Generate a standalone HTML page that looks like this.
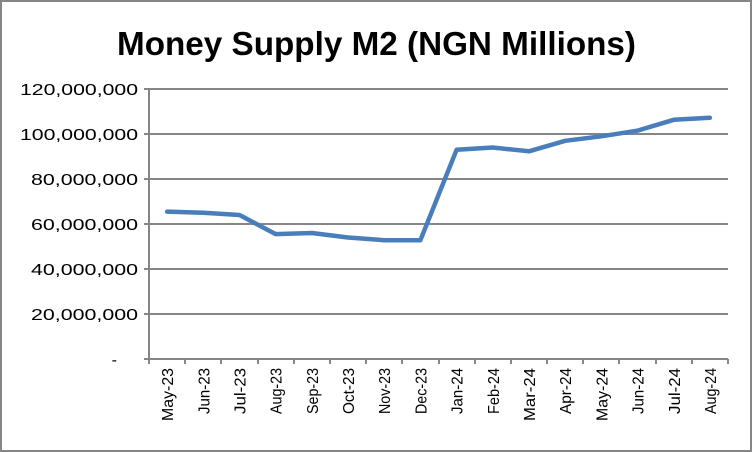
<!DOCTYPE html>
<html><head><style>
html,body{margin:0;padding:0;background:#fff;}
svg{display:block;}
text{font-family:"Liberation Sans",sans-serif;fill:#000;}
</style></head><body>
<svg width="752" height="452" viewBox="0 0 752 452">
<rect x="1" y="1" width="750" height="450" fill="#fff" stroke="#868686" stroke-width="2"/>
<text x="117" y="55" font-size="33" font-weight="bold" textLength="519" lengthAdjust="spacingAndGlyphs">Money Supply M2 (NGN Millions)</text>
<g stroke="#868686" stroke-width="2">
<line x1="149" y1="89" x2="728" y2="89"/>
<line x1="149" y1="134" x2="728" y2="134"/>
<line x1="149" y1="179" x2="728" y2="179"/>
<line x1="149" y1="224" x2="728" y2="224"/>
<line x1="149" y1="269" x2="728" y2="269"/>
<line x1="149" y1="314" x2="728" y2="314"/>
<line x1="149" y1="359" x2="728" y2="359"/>
<line x1="149" y1="89" x2="149" y2="364"/>
<line x1="144" y1="89" x2="149" y2="89"/><line x1="144" y1="134" x2="149" y2="134"/>
<line x1="144" y1="179" x2="149" y2="179"/><line x1="144" y1="224" x2="149" y2="224"/>
<line x1="144" y1="269" x2="149" y2="269"/><line x1="144" y1="314" x2="149" y2="314"/>
<line x1="144" y1="359" x2="149" y2="359"/>
</g>
<g stroke="#868686" stroke-width="2" id="ticks"></g>
<g font-size="16" text-anchor="end">
<text x="138" y="95" textLength="118" lengthAdjust="spacingAndGlyphs">120,000,000</text>
<text x="138" y="140" textLength="118" lengthAdjust="spacingAndGlyphs">100,000,000</text>
<text x="138" y="185" textLength="107" lengthAdjust="spacingAndGlyphs">80,000,000</text>
<text x="138" y="230" textLength="107" lengthAdjust="spacingAndGlyphs">60,000,000</text>
<text x="138" y="275" textLength="107" lengthAdjust="spacingAndGlyphs">40,000,000</text>
<text x="138" y="320" textLength="107" lengthAdjust="spacingAndGlyphs">20,000,000</text>
<text x="117" y="365">-</text>
</g>
<g id="labels" font-size="16" text-anchor="end"></g>
<polyline id="line" fill="none" stroke="#4a7ebb" stroke-width="4.5" stroke-linejoin="round" stroke-linecap="round"/>
<script>
var labs=["May-23","Jun-23","Jul-23","Aug-23","Sep-23","Oct-23","Nov-23","Dec-23","Jan-24","Feb-24","Mar-24","Apr-24","May-24","Jun-24","Jul-24","Aug-24"];
var vals=[65.5,65,64,55.5,56,54,52.8,52.8,93,94,92.3,97,99,101.5,106.3,107.2];
var ns="http://www.w3.org/2000/svg",w=36.19,x0=149;
var t=document.getElementById("ticks"),L=document.getElementById("labels"),pts=[];
for(var i=0;i<=16;i++){var l=document.createElementNS(ns,"line");var x=Math.round(x0+i*w);l.setAttribute("x1",x);l.setAttribute("x2",x);l.setAttribute("y1",359);l.setAttribute("y2",364);t.appendChild(l);}
for(var i=0;i<16;i++){var cx=x0+(i+0.5)*w;var tx=document.createElementNS(ns,"text");tx.setAttribute("transform","translate("+(cx+6)+",368) rotate(-90)");tx.setAttribute("textLength",labs[i].charAt(0)=="M"&&labs[i].charAt(1)=="a"?"53":"46");tx.setAttribute("lengthAdjust","spacingAndGlyphs");tx.textContent=labs[i];L.appendChild(tx);pts.push(cx.toFixed(1)+","+(359-vals[i]*2.25).toFixed(1));}
document.getElementById("line").setAttribute("points",pts.join(" "));
</script>
</svg>
</body></html>
